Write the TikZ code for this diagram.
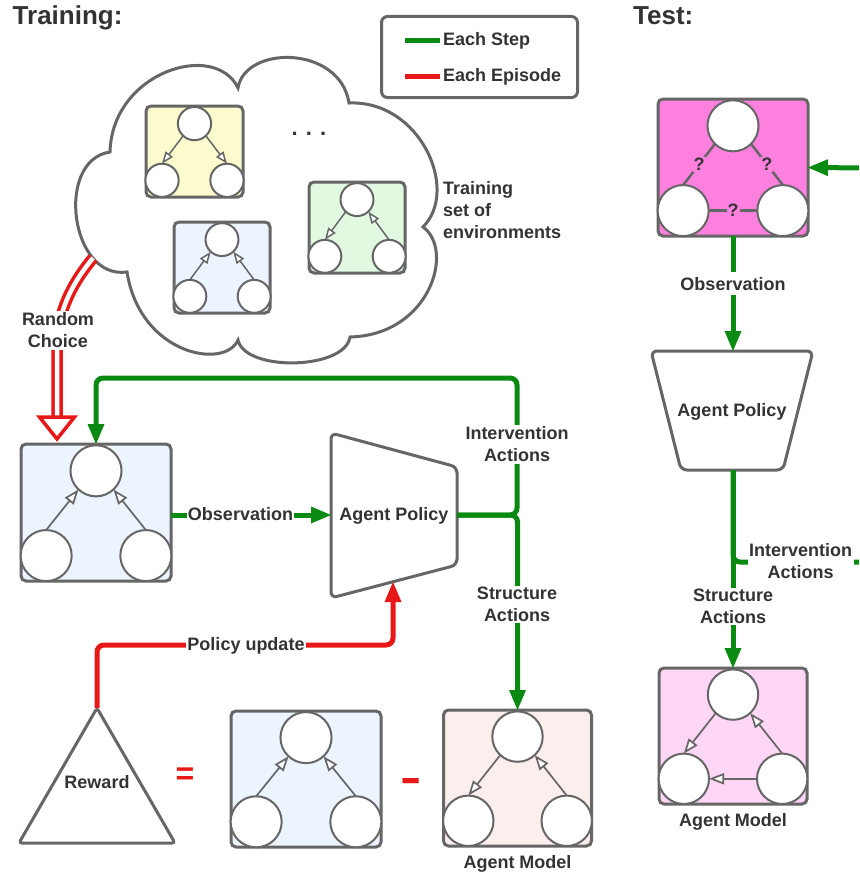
\documentclass[tikz,border=0pt]{standalone}
\usepackage{graphicx}
\usepackage{fontspec}
\setmainfont{Liberation Sans}
\usetikzlibrary{arrows.meta,calc}
\definecolor{gs}{HTML}{666666}
\definecolor{gr}{HTML}{0A8A12}
\definecolor{rd}{HTML}{E81818}
\definecolor{txt}{HTML}{333333}
\definecolor{fyel}{HTML}{FBFBCD}
\definecolor{fblu}{HTML}{ECF4FF}
\definecolor{fgrn}{HTML}{E1F8E1}
\definecolor{fpnk}{HTML}{FDEEEE}
\definecolor{fmag}{HTML}{FF80DF}
\definecolor{flpk}{HTML}{FFD6F5}
\newcommand\lblf{\bfseries\fontsize{18}{22}\selectfont}
\newcommand\envbox[6]{%
  \node[envst, fill=#6, minimum width=#4-2, minimum height=#5-2] (#1) at (#2,#3) {};
  \node[vtx, minimum size=2*0.168*#4] (#1t) at ($(#1)+(0,-0.30*#5)$) {};
  \node[vtx, minimum size=2*0.168*#4] (#1l) at ($(#1)+(-0.328*#4,0.31*#5)$) {};
  \node[vtx, minimum size=2*0.168*#4] (#1r) at ($(#1)+(0.328*#4,0.31*#5)$) {};
}
\begin{document}
\begin{tikzpicture}[x=1pt,y=-1pt,
  envst/.style={draw=gs, line width=3, rounded corners=5, inner sep=0, outer sep=0},
  vtx/.style={circle, draw=gs, line width=2, fill=white, inner sep=0, outer sep=0},
  lbl/.style={font=\lblf, text=txt, align=center, inner sep=1.5},
  wlbl/.style={lbl, fill=white},
  qlbl/.style={lbl, fill=fmag, inner sep=1},
  gline/.style={draw=gr, line width=5},
  rline/.style={draw=rd, line width=5},
  garrow/.style={-{Triangle[length=20pt,width=17pt,line width=0pt]}},
  earr/.style={draw=gs, line width=1.7, -{Triangle[length=15pt,width=11pt,fill=white]}},
  searr/.style={draw=gs, line width=1.5, -{Triangle[length=12pt,width=9pt,fill=white]}},
  qline/.style={draw=gs, line width=2.5},
  trap/.style={draw=gs, line width=3, fill=white, rounded corners=6}
]
\useasboundingbox (0,0) rectangle (859,875);
\clip (0,0) rectangle (859,875);

% ---------- cloud ----------
\draw[gs, line width=3, fill=white] (110,152)
  .. controls (112,72) and (215,40) .. (238,88)
  .. controls (245,45) and (340,45) .. (349,103)
  .. controls (420,100) and (460,190) .. (423,227)
  .. controls (455,250) and (430,335) .. (350,337)
  .. controls (345,370) and (245,372) .. (238,340)
  .. controls (225,370) and (140,355) .. (127,272)
  .. controls (70,280) and (55,160) .. cycle;
\coordinate (cloudrc) at (93,258);

\envbox{ya}{194.5}{151.5}{99}{93}{fyel}
\draw[searr] (yat.227) -- (yal.north);
\draw[searr] (yat.313) -- (yar.north);
\envbox{ba}{222}{267.5}{98}{93}{fblu}
\draw[searr] (bal.north) -- (bat.227);
\draw[searr] (bar.north) -- (bat.313);
\envbox{ga}{357}{227.5}{98}{93}{fgrn}
\draw[searr] (gat.227) -- (gal.north);
\draw[searr] (gar.north) -- (gat.313);

\node[lbl, font=\bfseries\fontsize{22}{26}\selectfont, anchor=base] (dots) at (309,135) {. . .};
\node[lbl, align=left, anchor=west] (tset) at (441.5,210.5) {Training\\set of\\environments};

% ---------- legend ----------
\node[draw=gs, line width=3, rounded corners=6, fill=white, minimum width=196, minimum height=81, inner sep=0] (leg) at (479.5,57) {};
\draw[gline] (405,40.5) -- (440,40.5);
\draw[rline] (405,76.5) -- (440,76.5);
\node[lbl, anchor=base west] (lstep) at (441.5,45.5) {Each Step};
\node[lbl, anchor=base west] (lepi) at (441.5,81.5) {Each Episode};

% ---------- titles ----------
\node[lbl, font=\bfseries\fontsize{26}{30}\selectfont, anchor=base west] (ttrain) at (11,25) {Training:};
\node[lbl, font=\bfseries\fontsize{26}{30}\selectfont, anchor=base west] (ttest) at (631.5,25) {Test:};

% ---------- observed environment ----------
\envbox{le}{96}{512.5}{152}{139}{fblu}
\draw[earr] (lel.north) -- (let.227);
\draw[earr] (ler.north) -- (let.313);

% ---------- random choice ----------
\draw[draw=rd, line width=3.5, double=white, double distance=4.5] (cloudrc) .. controls (75,280) and (60,305) .. (57,340) -- (57,417);
\draw[draw=rd, line width=3.5, fill=white, line join=miter] (39.5,417) -- (74.5,417) -- (57,439) -- cycle;
\node[wlbl] (rc) at (58,330.5) {Random\\Choice};

% ---------- agent policy (training) ----------
\draw[trap] (331,433) -- (457,467) -- (457,565) -- (331,598) -- cycle;
\node[lbl, anchor=base] (apl) at (394,520.5) {Agent Policy};
\coordinate (apL) at (331,515);
\coordinate (apR) at (457,515);
\coordinate (apB) at (393,582);

% ---------- reward ----------
\draw[gs, line width=3, fill=white, rounded corners=3] (97,708) -- (175,843) -- (19,843) -- cycle;
\node[lbl, anchor=base] (rw) at (97,788) {Reward};
\coordinate (rwtop) at (97,708);
\node[lbl, text=rd, font=\bfseries\fontsize{32}{36}\selectfont, anchor=base] (eq) at (185,784.5) {=};
\node[lbl, text=rd, font=\bfseries\fontsize{44}{48}\selectfont, anchor=base] (mi) at (411,792) {\scalebox{1.45}[1]{-}};

\envbox{me}{306}{779}{152}{138}{fblu}
\draw[earr] (mel.north) -- (met.227);
\draw[earr] (mer.north) -- (met.313);
\envbox{am}{517.5}{778}{150}{138}{fpnk}
\draw[earr] (amt.227) -- (aml.north);
\draw[earr] (amr.north) -- (amt.313);
\node[lbl, anchor=base] (amlab) at (517.5,868) {Agent Model};

% ---------- training connectors ----------
\draw[gline, garrow, rounded corners=7] (apR) -| (517,378) -| (le.north);
\draw[gline, garrow, rounded corners=7] (apR) -| (am.north);
\draw[gline, garrow] (le.east |- apL) -- (apL);
\draw[rline, garrow, rounded corners=7] (rwtop) -- (97,645) -- (393,645) -- (apB);
\node[wlbl, anchor=base, inner xsep=0.5] (obs) at (240.5,520) {Observation};
\node[wlbl] (iact) at (517,444.5) {Intervention\\Actions};
\node[wlbl] (sact) at (517,604.5) {Structure\\Actions};
\node[wlbl, anchor=base] (pu) at (246,650) {Policy update};

% ---------- test ----------
\envbox{te}{733}{167.5}{152}{139}{fmag}
\draw[qline] (tet.225) -- node[qlbl] (q1) {?} (tel.north);
\draw[qline] (tet.315) -- node[qlbl] (q2) {?} (ter.north);
\draw[qline] (tel.east) -- node[qlbl] (q3) {?} (ter.west);
\coordinate (tinR) at (870,168);
\draw[gline, garrow] (tinR) -- (te.east);

\draw[trap] (651,351) -- (813,351) -- (783,470) -- (681,470) -- cycle;
\node[lbl, anchor=base] (tapl) at (732,416.5) {Agent Policy};
\coordinate (tapT) at (733,351);
\coordinate (tapB) at (733,470);
\draw[gline, garrow] (te.south) -- (tapT);
\node[wlbl, anchor=base, inner ysep=5] (tobs) at (733,290) {Observation};

\envbox{tm}{733}{736}{150}{138}{flpk}
\draw[earr] (tmt.227) -- (tml.north);
\draw[earr] (tmr.north) -- (tmt.313);
\draw[earr] (tmr.west) -- (tml.east);
\node[lbl, anchor=base] (tmlab) at (733,826) {Agent Model};

\coordinate (tintR) at (870,562);
\draw[gline, garrow] (tapB) -- (tm.north);
\draw[gline, rounded corners=7] (tapB) |- (tintR);
\node[wlbl] (tiact) at (800.5,561) {Intervention\\Actions};
\node[wlbl] (tsact) at (733,606.5) {Structure\\Actions};
\end{tikzpicture}
\end{document}
